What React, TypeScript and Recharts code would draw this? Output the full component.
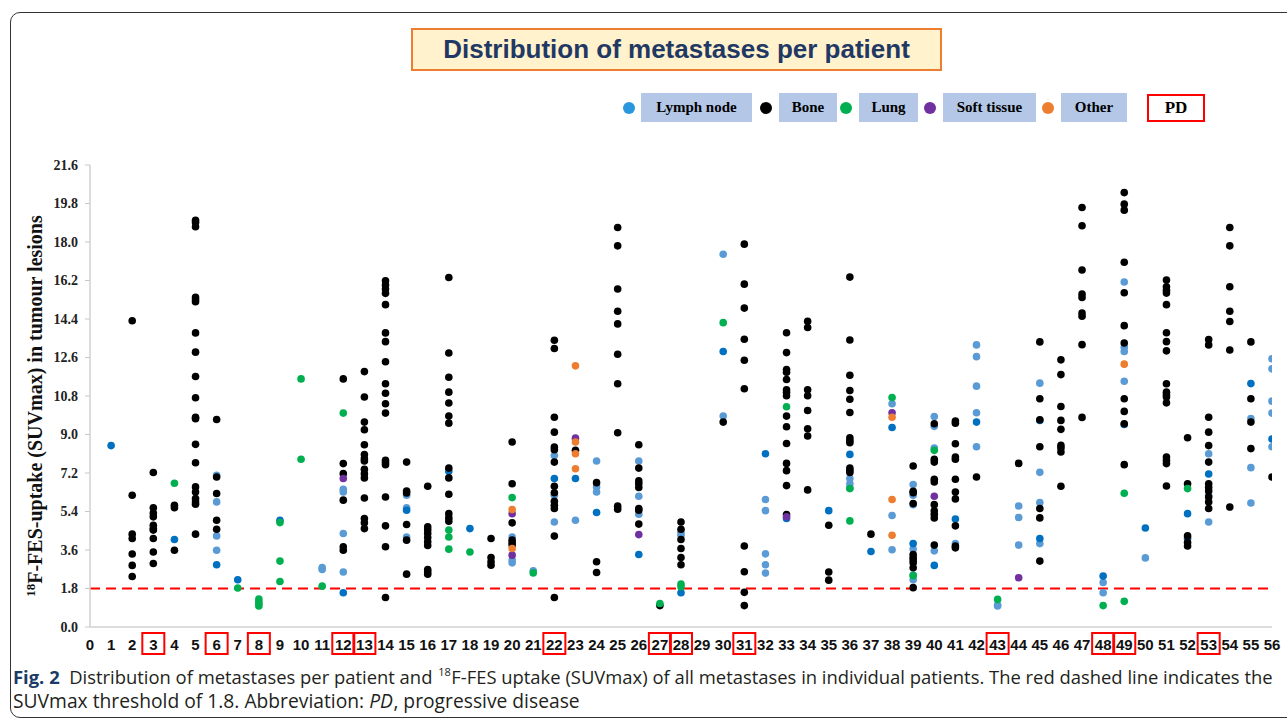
import { ScatterChart, Scatter, XAxis, YAxis, ReferenceLine } from 'recharts'

type P = [number, number]

// patient number, SUVmax
const lymphDark: P[] = [
  [1, 8.48], [4, 4.09], [6, 2.91], [7, 2.21], [9, 4.99], [12, 1.6], [15, 5.46], [17, 7.28], [18, 4.6],
  [22, 6.94], [23, 6.94], [24, 5.35], [26, 3.39], [28, 1.6], [30, 12.88], [32, 8.1], [33, 5.07], [35, 5.44],
  [36, 8.07], [37, 3.53], [38, 9.33], [39, 3.9], [40, 2.88], [41, 5.05], [42, 9.58], [45, 9.66], [45, 4.14],
  [48, 2.38], [49, 9.47], [50, 4.63], [52, 5.3], [52, 4.14], [53, 7.15], [55, 11.38], [56, 8.79],
]

const lymphLight: P[] = [
  [6, 7.09], [6, 5.85], [6, 4.26], [6, 3.59], [11, 2.78], [11, 2.69], [12, 6.44], [12, 6.31], [12, 4.37],
  [12, 2.57], [15, 6.16], [15, 5.57], [15, 4.21], [20, 4.21], [20, 3.13], [20, 3.0], [21, 2.63], [22, 8.02],
  [22, 6.16], [22, 4.91], [23, 4.99], [24, 7.76], [24, 6.55], [24, 6.31], [26, 7.76], [26, 6.11], [26, 5.27],
  [28, 4.42], [28, 4.29], [30, 17.43], [30, 9.86], [32, 5.96], [32, 5.44], [32, 3.42], [32, 2.91], [32, 2.52],
  [36, 6.94], [36, 6.7], [36, 6.5], [38, 10.44], [38, 5.21], [38, 3.61], [39, 6.66], [39, 6.16], [39, 5.72],
  [39, 3.65], [39, 2.43], [39, 2.21], [40, 9.84], [40, 9.38], [40, 8.37], [40, 3.56], [41, 3.9], [42, 13.19],
  [42, 12.64], [42, 11.26], [42, 10.02], [42, 8.43], [43, 1.03], [43, 0.98], [44, 5.66], [44, 5.12], [44, 3.83],
  [45, 11.4], [45, 7.23], [45, 5.82], [45, 3.9], [48, 2.08], [48, 1.6], [49, 16.13], [49, 13.08], [49, 12.88],
  [49, 11.49], [50, 3.23], [53, 8.1], [53, 6.16], [53, 4.91], [55, 9.74], [55, 7.45], [55, 5.8], [56, 12.54],
  [56, 12.07], [56, 10.56], [56, 10.0], [56, 8.43],
]

const bone: P[] = [
  [2, 14.32], [2, 6.16], [2, 4.34], [2, 4.14], [2, 3.41], [2, 2.88], [2, 2.36],
  [3, 7.22], [3, 5.57], [3, 5.33], [3, 5.15], [3, 4.76], [3, 4.6], [3, 4.53], [3, 4.14], [3, 3.51], [3, 2.97],
  [4, 5.69], [4, 5.58], [4, 3.59],
  [5, 19.02], [5, 18.91], [5, 18.71], [5, 15.41], [5, 15.3], [5, 15.21], [5, 13.75], [5, 12.85], [5, 11.71],
  [5, 10.72], [5, 9.81], [5, 9.74], [5, 8.54], [5, 7.68], [5, 6.55], [5, 6.31], [5, 6.0], [5, 5.85], [5, 5.74], [5, 4.34],
  [6, 9.7], [6, 7.01], [6, 6.24], [6, 4.99], [6, 4.57],
  [12, 11.6], [12, 7.64], [12, 7.17], [12, 5.93], [12, 3.75], [12, 3.59],
  [13, 11.94], [13, 10.75], [13, 9.58], [13, 9.22], [13, 8.52], [13, 8.06], [13, 7.87], [13, 7.76], [13, 7.37],
  [13, 7.17], [13, 6.97], [13, 6.03], [13, 5.07], [13, 4.87], [13, 4.6],
  [14, 16.19], [14, 15.99], [14, 15.8], [14, 15.6], [14, 15.07], [14, 13.75], [14, 13.34], [14, 12.4], [14, 11.37],
  [14, 10.93], [14, 10.44], [14, 10.0], [14, 7.79], [14, 7.68], [14, 7.59], [14, 6.08], [14, 4.73], [14, 3.75], [14, 1.38],
  [15, 7.71], [15, 6.36], [15, 6.27], [15, 4.79], [15, 4.06], [15, 2.47],
  [16, 6.58], [16, 4.68], [16, 4.53], [16, 4.37], [16, 4.18], [16, 3.98], [16, 3.81], [16, 2.69], [16, 2.58], [16, 2.47],
  [17, 16.34], [17, 12.81], [17, 11.68], [17, 10.98], [17, 10.47], [17, 9.86], [17, 9.53], [17, 7.43], [17, 6.97],
  [17, 6.21], [17, 5.3], [17, 5.1], [17, 4.95],
  [19, 4.14], [19, 3.25], [19, 3.05], [19, 2.89],
  [20, 8.65], [20, 6.7], [20, 4.87], [20, 4.06], [20, 3.93], [20, 3.83],
  [22, 13.41], [22, 13.02], [22, 9.81], [22, 9.11], [22, 8.41], [22, 8.29], [22, 7.71], [22, 6.58], [22, 6.28],
  [22, 5.88], [22, 5.69], [22, 5.54], [22, 4.25], [22, 1.38],
  [23, 8.26],
  [24, 6.75], [24, 3.05], [24, 2.55],
  [25, 18.68], [25, 17.82], [25, 15.8], [25, 14.76], [25, 14.17], [25, 12.75], [25, 11.37], [25, 9.08], [25, 5.65], [25, 5.51],
  [26, 8.52], [26, 7.43], [26, 6.83], [26, 6.7], [26, 6.52], [26, 5.54], [26, 5.46], [26, 4.81],
  [27, 1.0],
  [28, 4.91], [28, 4.57], [28, 4.09], [28, 3.67], [28, 3.25], [28, 2.91],
  [30, 9.58],
  [31, 17.9], [31, 16.03], [31, 14.91], [31, 13.45], [31, 12.47], [31, 11.14], [31, 3.79], [31, 2.58], [31, 1.62], [31, 1.0],
  [33, 13.76], [33, 12.83], [33, 12.04], [33, 11.91], [33, 11.57], [33, 11.09], [33, 10.96], [33, 10.81], [33, 9.86],
  [33, 9.36], [33, 8.58], [33, 7.65], [33, 7.31], [33, 6.61], [33, 5.26],
  [34, 14.29], [34, 14.0], [34, 11.09], [34, 10.81], [34, 10.12], [34, 9.27], [34, 8.93], [34, 6.41],
  [35, 4.76], [35, 2.57], [35, 2.19],
  [36, 16.36], [36, 13.42], [36, 11.77], [36, 11.06], [36, 10.65], [36, 10.03], [36, 8.85], [36, 8.72], [36, 8.62],
  [36, 7.43], [36, 7.33], [36, 7.22],
  [37, 4.34],
  [39, 7.53], [39, 6.35], [39, 6.28], [39, 5.77], [39, 3.39], [39, 3.25], [39, 3.13], [39, 3.0], [39, 2.77], [39, 1.84],
  [40, 9.5], [40, 7.84], [40, 7.71], [40, 6.91], [40, 6.78], [40, 5.72], [40, 5.43], [40, 5.27], [40, 5.1], [40, 3.83],
  [41, 9.63], [41, 9.53], [41, 8.57], [41, 7.95], [41, 7.84], [41, 6.91], [41, 6.31], [41, 5.99], [41, 4.73], [41, 3.79], [41, 3.7],
  [42, 7.01],
  [44, 7.65],
  [45, 13.33], [45, 10.67], [45, 9.69], [45, 8.43], [45, 5.54], [45, 5.1], [45, 3.08],
  [46, 12.49], [46, 11.8], [46, 10.31], [46, 9.66], [46, 9.24], [46, 8.49], [46, 8.37], [46, 8.18], [46, 6.58],
  [47, 19.61], [47, 18.76], [47, 16.69], [47, 15.57], [47, 15.41], [47, 14.68], [47, 14.53], [47, 13.2], [47, 9.8],
  [49, 20.31], [49, 19.77], [49, 19.49], [49, 17.05], [49, 15.63], [49, 14.09], [49, 13.28], [49, 10.67], [49, 10.08],
  [49, 9.5], [49, 7.59],
  [51, 16.22], [51, 15.91], [51, 15.75], [51, 15.61], [51, 15.07], [51, 13.76], [51, 13.34], [51, 12.91], [51, 11.37],
  [51, 10.98], [51, 10.86], [51, 10.75], [51, 10.48], [51, 7.95], [51, 7.79], [51, 7.64], [51, 6.59],
  [52, 8.85], [52, 6.7], [52, 4.26], [52, 3.95], [52, 3.79],
  [53, 13.44], [53, 13.19], [53, 9.81], [53, 9.11], [53, 8.48], [53, 7.71], [53, 6.7], [53, 6.52], [53, 6.36],
  [53, 6.08], [53, 5.85], [53, 5.54],
  [54, 18.68], [54, 17.82], [54, 15.91], [54, 14.76], [54, 14.28], [54, 12.95], [54, 5.61],
  [55, 13.33], [55, 10.67], [55, 9.58], [55, 8.34],
  [56, 7.01],
]

const lung: P[] = [
  [4, 6.72], [7, 1.82], [8, 1.31], [8, 1.18], [8, 1.07], [8, 0.98], [9, 4.88], [9, 3.08], [9, 2.13], [10, 11.6],
  [10, 7.84], [11, 1.91], [12, 10.0], [17, 4.53], [17, 4.21], [17, 3.64], [18, 3.51], [20, 6.05], [21, 2.53],
  [27, 1.1], [28, 2.01], [28, 1.88], [30, 14.23], [33, 10.3], [36, 6.47], [36, 4.96], [38, 10.73], [39, 2.4],
  [40, 8.26], [43, 1.29], [48, 1.0], [49, 6.25], [49, 1.2], [52, 6.47],
]

const softTissue: P[] = [
  [12, 6.94], [20, 5.3], [20, 3.36], [23, 8.83], [26, 4.32], [33, 5.15], [38, 10.02], [40, 6.11], [44, 2.3],
]

const other: P[] = [
  [20, 5.49], [20, 3.67], [23, 12.21], [23, 8.65], [23, 8.1], [23, 7.4], [38, 9.81], [38, 5.96], [38, 4.29], [49, 12.29],
]

const pdPatients = [3, 6, 8, 12, 13, 22, 27, 28, 31, 43, 48, 49, 53]
const patientTicks = Array.from({ length: 57 }, (_, i) => i)
const suvTicks = [0, 1.8, 3.6, 5.4, 7.2, 9.0, 10.8, 12.6, 14.4, 16.2, 18.0, 19.8, 21.6]
const threshold = 1.8

const legendItems = [
  { label: 'Lymph node', dot: '#2a97dd', x: 629, box: [641, 752] },
  { label: 'Bone', dot: '#000000', x: 766, box: [779, 837] },
  { label: 'Lung', dot: '#00b050', x: 846, box: [859, 918] },
  { label: 'Soft tissue', dot: '#7030a0', x: 930, box: [943, 1036] },
  { label: 'Other', dot: '#ed7d31', x: 1048, box: [1061, 1127] },
]

type Seg = { text: string; gap?: number; bold?: boolean; italic?: boolean; sup?: boolean; color?: string }

const captionLine1: Seg[] = [
  { text: 'Fig. 2', bold: true, color: '#1b3a66' },
  { text: 'Distribution of metastases per patient and', gap: 2 },
  { text: '18', sup: true, gap: 1.2 },
  { text: 'F-FES uptake (SUVmax) of all metastases in individual patients. The red dashed line indicates the', gap: 0.1 },
]
const captionLine2: Seg[] = [
  { text: 'SUVmax threshold of 1.8. Abbreviation:' },
  { text: 'PD', italic: true, gap: 1 },
  { text: ',', gap: 0.1 },
  { text: 'progressive disease', gap: 1 },
]

const CAP_FONT = "'Open Sans', 'Noto Sans', sans-serif"
const BASE = 20
let measureCtx: CanvasRenderingContext2D | null = null
const segSize = (s: Seg, size: number) => (s.sup ? size * 0.6 : size)
const segFont = (s: Seg, size: number) =>
  `${s.italic ? 'italic ' : ''}${s.bold ? 'bold ' : ''}${segSize(s, size)}px ${CAP_FONT}`
const measure = (text: string, font: string) => {
  if (!measureCtx) measureCtx = document.createElement('canvas').getContext('2d')
  if (!measureCtx) return text.length * 9
  measureCtx.font = font
  return measureCtx.measureText(text).width
}

// lay out one caption line so it spans the given width by picking the font size
function CaptionLine({ segs, x0, y, width }: { segs: Seg[]; x0: number; y: number; width: number }) {
  const lineWidth = (size: number) => {
    const space = measure(' ', segFont({ text: ' ' }, size))
    return segs.reduce((a, s) => a + (s.gap ?? 0) * space + measure(s.text, segFont(s, size)), 0)
  }
  const size = Math.min(21, (BASE * (width - 2)) / lineWidth(BASE))
  const space = measure(' ', segFont({ text: ' ' }, size))
  let cur = x0
  return (
    <>
      {segs.map((s, i) => {
        cur += (s.gap ?? 0) * space
        const x = cur
        cur += measure(s.text, segFont(s, size))
        return (
          <text
            key={i}
            x={x}
            y={s.sup ? y - size * 0.42 : y}
            fontFamily={CAP_FONT}
            fontSize={segSize(s, size)}
            fontWeight={s.bold ? 'bold' : 'normal'}
            fontStyle={s.italic ? 'italic' : 'normal'}
            fill={s.color ?? '#231f20'}
          >
            {s.text}
          </text>
        )
      })}
    </>
  )
}

const toPoints = (arr: P[]) => arr.map(([x, y]) => ({ x, y }))

const dot = (color: string) => (props: any) =>
  <circle cx={props.cx} cy={props.cy} r={3.8} fill={color} />

const PatientTick = (props: any) => {
  const { x, y, payload } = props
  const pd = pdPatients.includes(payload.value)
  return (
    <g>
      {pd && (
        <rect x={x - 11} y={y + 6} width={22} height={21} fill="none" stroke="#ff0000" strokeWidth={2} />
      )}
      <text
        x={x}
        y={y + 23}
        textAnchor="middle"
        fontFamily="'Liberation Sans Narrow', 'Arial Narrow', Arial, sans-serif"
        fontWeight="bold"
        fontSize={15}
        fill="#111"
      >
        {payload.value}
      </text>
    </g>
  )
}

export default function App() {
  return (
    <div style={{ position: 'absolute', left: 0, top: 0, width: 1287, height: 722, overflow: 'hidden', background: '#fff' }}>
      <div
        style={{
          position: 'absolute', left: 10, top: 12, width: 1300, height: 706,
          border: '1.5px solid #333', borderRadius: 10, boxSizing: 'border-box',
        }}
      />
      <div
        style={{
          position: 'absolute', left: 411, top: 28, width: 531, height: 43, boxSizing: 'border-box',
          background: '#fff2cc', border: '2px solid #ed7d31', color: '#1f3864',
          font: 'bold 26px Arial, "Liberation Sans", sans-serif', textAlign: 'center', lineHeight: '39px',
        }}
      >
        Distribution of metastases per patient
      </div>

      {legendItems.map((it) => (
        <div key={it.label}>
          <div
            style={{
              position: 'absolute', left: it.x - 6, top: 102, width: 12, height: 12,
              borderRadius: '50%', background: it.dot,
            }}
          />
          <div
            style={{
              position: 'absolute', left: it.box[0], top: 93, width: it.box[1] - it.box[0], height: 29,
              background: '#b4c7e7', font: 'bold 15px "Liberation Serif", "Times New Roman", serif',
              lineHeight: '29px', textAlign: 'center', color: '#000',
            }}
          >
            {it.label}
          </div>
        </div>
      ))}
      <div
        style={{
          position: 'absolute', left: 1147, top: 94, width: 58, height: 28, boxSizing: 'border-box',
          border: '2px solid #ff0000', font: 'bold 17px "Liberation Serif", "Times New Roman", serif',
          lineHeight: '24px', textAlign: 'center', color: '#000', background: '#fff',
        }}
      >
        PD
      </div>

      <div style={{ position: 'absolute', left: 0, top: 0 }}>
        <ScatterChart width={1287} height={722} margin={{ top: 165, right: 15, bottom: 65, left: 30 }}>
          <XAxis
            type="number"
            dataKey="x"
            domain={[0, 56]}
            ticks={patientTicks}
            interval={0}
            height={30}
            tickLine={false}
            tickSize={0}
            tickMargin={0}
            axisLine={{ stroke: '#d0d0d0', strokeWidth: 1.5 }}
            tick={<PatientTick />}
            allowDataOverflow
          />
          <YAxis
            type="number"
            dataKey="y"
            domain={[0, 21.6]}
            ticks={suvTicks}
            interval={0}
            width={60}
            tickSize={5}
            tickMargin={7}
            tickLine={{ stroke: '#c8c8c8' }}
            axisLine={{ stroke: '#d0d0d0', strokeWidth: 1.5 }}
            tickFormatter={(v: number) => v.toFixed(1)}
            tick={{ fontFamily: "'Liberation Serif', 'Times New Roman', serif", fontWeight: 'bold', fontSize: 14, fill: '#222' }}
            allowDataOverflow
          />
          <ReferenceLine y={threshold} stroke="#ff0000" strokeWidth={2} strokeDasharray="10 6" />
          <Scatter data={toPoints(lymphLight)} fill="#5b9bd5" shape={dot('#5b9bd5')} isAnimationActive={false} />
          <Scatter data={toPoints(lymphDark)} fill="#0070c0" shape={dot('#0070c0')} isAnimationActive={false} />
          <Scatter data={toPoints(bone)} fill="#000000" shape={dot('#000000')} isAnimationActive={false} />
          <Scatter data={toPoints(lung)} fill="#00b050" shape={dot('#00b050')} isAnimationActive={false} />
          <Scatter data={toPoints(softTissue)} fill="#7030a0" shape={dot('#7030a0')} isAnimationActive={false} />
          <Scatter data={toPoints(other)} fill="#ed7d31" shape={dot('#ed7d31')} isAnimationActive={false} />
        </ScatterChart>
      </div>

      <svg width={1287} height={722} style={{ position: 'absolute', left: 0, top: 0, pointerEvents: 'none' }}>
        <text
          transform="translate(42, 406) rotate(-90)"
          textAnchor="middle"
          fontFamily="'Liberation Serif', 'Times New Roman', serif"
          fontWeight="bold"
          fontSize={20}
          fill="#111"
        >
          <tspan fontSize={13} dy={-7}>18</tspan>
          <tspan dy={7}>F-FES-uptake (SUVmax) in tumour lesions</tspan>
        </text>
        <CaptionLine segs={captionLine1} x0={13} y={684} width={1262} />
        <CaptionLine segs={captionLine2} x0={13} y={708} width={569} />
      </svg>
    </div>
  )
}
